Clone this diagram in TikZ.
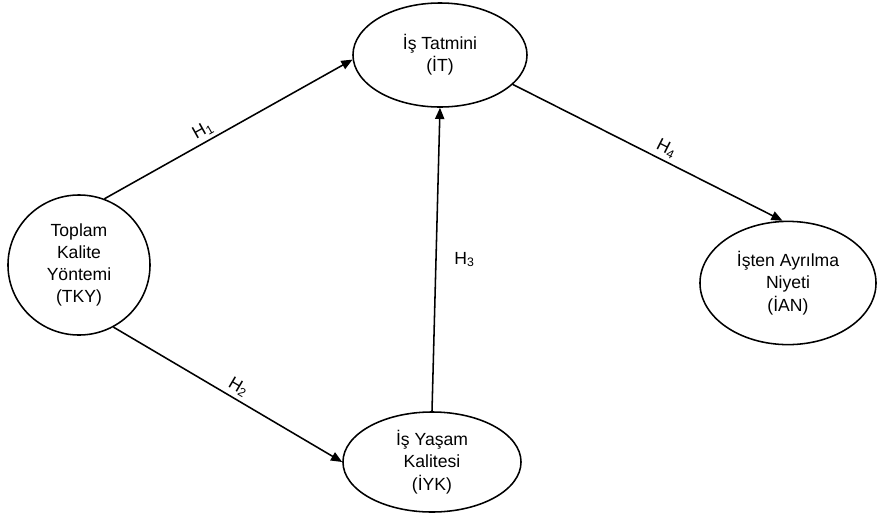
\documentclass[tikz,border=0pt]{standalone}
\usepackage{fontspec}
\setmainfont{Liberation Sans}
\usetikzlibrary{shapes.geometric,arrows.meta}
\tikzset{
  construct/.style={draw, ellipse, line width=1.1pt, inner sep=0pt, align=center,
    font=\fontsize{12.5}{15.8}\selectfont},
  path/.style={-{Triangle[length=2.8mm,width=2.3mm]}, line width=1.1pt},
  hyp/.style={font=\fontsize{12.5}{14}\selectfont, inner sep=2.5pt}
}
\begin{document}
\begin{tikzpicture}[x=0.025cm,y=-0.025cm]
    \useasboundingbox (0,0) rectangle (877,515);

    \node[construct, minimum width=3.55cm, minimum height=3.5cm] (tky) at (79,265) {Toplam\\Kalite\\Yöntemi\\(TKY)};
    \node[construct, minimum width=4.35cm, minimum height=2.6cm] (it) at (440,55) {İş Tatmini\\(İT)};
    \node[construct, minimum width=4.45cm, minimum height=2.5cm] (iyk) at (432,462) {İş Yaşam\\Kalitesi\\(İYK)};
    \node[construct, minimum width=4.4cm, minimum height=3.08cm] (ian) at (788,283) {İşten Ayrılma\\Niyeti\\(İAN)};

    \draw[path] (tky.69) to node[pos=0.42, above, sloped, hyp] {H\textsubscript{1}} (it.183);
    \draw[path] (tky.299) to node[pos=0.52, above, sloped, hyp] {H\textsubscript{2}} (iyk.west);
    \draw[path] (iyk.north) to node[pos=0.5, right, hyp, xshift=10pt] {H\textsubscript{3}} (it.south);
    \draw[path] (it.338) to node[pos=0.55, above, sloped, hyp] {H\textsubscript{4}} (ian.95);
\end{tikzpicture}
\end{document}
